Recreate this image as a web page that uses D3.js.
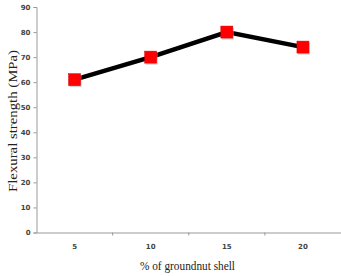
<!DOCTYPE html>
<html><head><meta charset="utf-8">
<script src="https://cdn.jsdelivr.net/npm/d3@7"></script>
<style>body{margin:0;background:#fff}</style>
</head><body>
<svg id="c" width="341" height="276"></svg>
<script>
const categories = ["5", "10", "15", "20"];
const values = [61, 70, 80, 74];
const yTicks = [0, 10, 20, 30, 40, 50, 60, 70, 80, 90];

const svg = d3.select("#c");
const m = {l: 36.5, r: 341, t: 7, b: 232.5};
const x = d3.scaleBand().domain(categories).range([m.l, m.r]);
const y = d3.scaleLinear().domain([0, 90]).range([m.b, m.t]);

const ya = svg.append("g").attr("transform", `translate(${m.l},0)`)
  .call(d3.axisLeft(y).tickValues(yTicks).tickSize(3).tickPadding(3));
ya.selectAll("path,line").attr("stroke", "#999");
ya.selectAll("text").attr("font-family", "DejaVu Sans, sans-serif").attr("font-size", 7).attr("font-weight", "bold").attr("fill", "#444");

const xa = svg.append("g").attr("transform", `translate(0,${m.b})`)
  .call(d3.axisBottom(x).tickSize(0).tickPadding(12));
xa.select("path").attr("stroke", "#999");
xa.selectAll("text").attr("font-family", "DejaVu Sans, sans-serif").attr("font-size", 7).attr("font-weight", "bold").attr("fill", "#444");
categories.slice(1).forEach(c => {
  xa.append("line").attr("x1", x(c)).attr("x2", x(c)).attr("y1", 0).attr("y2", 3).attr("stroke", "#999");
});

const cx = d => x(d) + x.bandwidth() / 2;
const line = d3.line().x((d, i) => cx(categories[i])).y(d => y(d));
svg.append("path").datum(values).attr("d", line).attr("fill", "none")
  .attr("stroke", "#000").attr("stroke-width", 4.5);

const s = 12;
svg.selectAll("rect.shadow").data(values).join("rect").attr("class", "shadow")
  .attr("x", (d, i) => cx(categories[i]) - s / 2 + 1).attr("y", d => y(d) - s / 2 + 1.5)
  .attr("width", s).attr("height", s).attr("fill", "#aaa").attr("opacity", 0.6);
svg.selectAll("rect.mk").data(values).join("rect").attr("class", "mk")
  .attr("x", (d, i) => cx(categories[i]) - s / 2).attr("y", d => y(d) - s / 2)
  .attr("width", s).attr("height", s).attr("fill", "#f00").attr("stroke", "#d00").attr("stroke-width", 0.5);

svg.append("text").attr("transform", `translate(16.5,121) rotate(-90)`)
  .attr("text-anchor", "middle").attr("font-family", "Liberation Serif, serif").attr("font-size", 13)
  .attr("textLength", 142).attr("lengthAdjust", "spacingAndGlyphs")
  .attr("fill", "#222").text("Flexural strength (MPa)");
svg.append("text").attr("x", 187.5).attr("y", 270)
  .attr("text-anchor", "middle").attr("font-family", "Liberation Serif, serif").attr("font-size", 12)
  .attr("textLength", 95).attr("lengthAdjust", "spacingAndGlyphs")
  .attr("fill", "#222").text("% of groundnut shell");
</script>
</body></html>
